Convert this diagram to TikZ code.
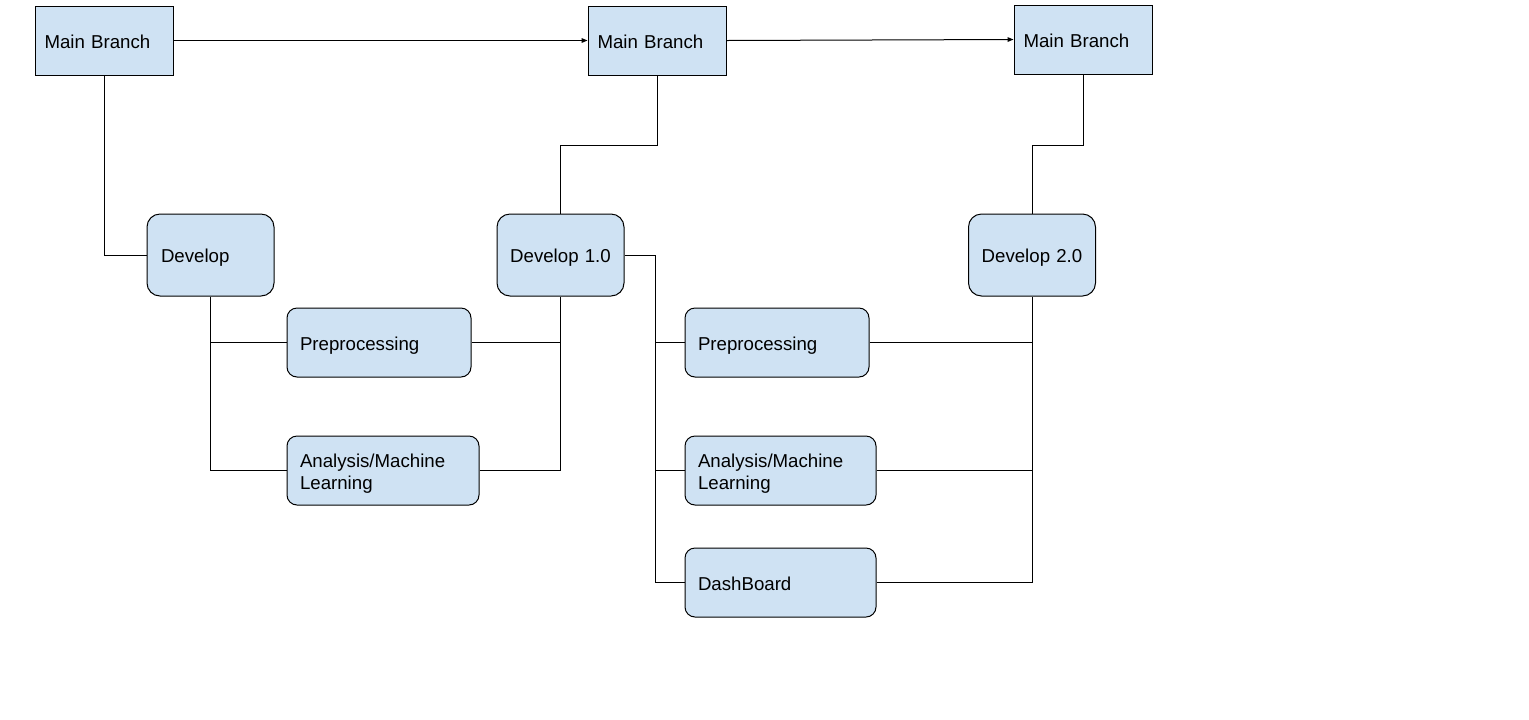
\documentclass[tikz,border=0pt]{standalone}
\usepackage{fontspec}
\setmainfont{Liberation Sans}
\usepackage{tikz}
\usetikzlibrary{arrows.meta}
\definecolor{boxblue}{RGB}{207,226,243}

\begin{document}
\begin{tikzpicture}[x=0.75pt,y=-0.75pt,>={Triangle[length=4.5pt,width=3.5pt]},line width=0.75pt,
  box/.style={draw,fill=boxblue,font=\fontsize{14}{16.5}\selectfont,align=left,text height=11.6pt,text depth=0pt},
  twoline/.style={text depth=16.5pt},
  mainbox/.style={box,text width=89.25pt,inner xsep=7.125pt,minimum height=51.75pt},
  devbox/.style={box,rounded corners=9.75pt,text width=74.25pt,inner xsep=10.5pt,minimum height=61.5pt},
  taskbox/.style={box,rounded corners=7.5pt,inner xsep=9.75pt,minimum height=51.75pt}]
  \useasboundingbox (0,0) rectangle (1529,719);
  \node[mainbox] (mb1) at (104,40.5) {Main Branch};
  \node[mainbox] (mb2) at (657,40.5) {Main Branch};
  \node[mainbox] (mb3) at (1083,39.5) {Main Branch};
  \node[devbox] (dev) at (210.5,255) {Develop};
  \node[devbox,align=center,text width=85.25pt,inner xsep=5pt] (dev1) at (560.5,255) {Develop 1.0};
  \node[devbox,align=center,text width=85.25pt,inner xsep=5pt] (dev2) at (1032,255) {Develop 2.0};
  \node[taskbox,text width=118.5pt] (pre1) at (379,342.5) {Preprocessing};
  \node[taskbox,twoline,text width=124.5pt] (ana1) at (383,470.5) {Analysis/Machine\\Learning};
  \node[taskbox,text width=118.5pt] (pre2) at (777,342.5) {Preprocessing};
  \node[taskbox,twoline,text width=123.75pt] (ana2) at (780.5,470.5) {Analysis/Machine\\Learning};
  \node[taskbox,text width=123.75pt] (dash) at (780.5,582.5) {DashBoard};
  \coordinate (up1) at (657,145);
  \coordinate (up2) at (1083,145);
  \coordinate (fork) at (655,255);
  % main line
  \draw[->] (mb1) -- (mb2);
  \draw[->] (mb2.east) -- (mb3.west);
  % first round
  \draw (mb1.south) |- (dev.west);
  \draw (dev.south) |- (pre1.west);
  \draw (dev.south) |- (ana1.west);
  \draw (pre1.east) -| (dev1.south);
  \draw (ana1.east) -| (dev1.south);
  \draw (dev1.north) |- (up1) -- (mb2.south);
  % second round
  \draw (dev1.east) -- (fork) |- (dash.west);
  \draw (fork) |- (pre2.west);
  \draw (fork) |- (ana2.west);
  \draw (pre2.east) -| (dev2.south);
  \draw (ana2.east) -| (dev2.south);
  \draw (dash.east) -| (dev2.south);
  \draw (dev2.north) |- (up2) -- (mb3.south);
\end{tikzpicture}
\end{document}
